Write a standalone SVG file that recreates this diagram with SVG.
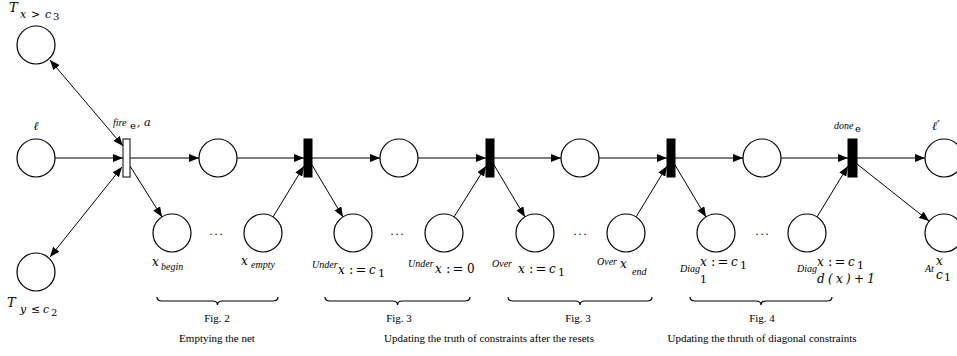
<svg xmlns="http://www.w3.org/2000/svg" width="957" height="356" viewBox="0 0 957 356">
<style>
.n circle{fill:none;stroke:#000;stroke-width:1.2}
.tb{fill:#000;stroke:#000;stroke-width:1}
.tw{fill:#fff;stroke:#000;stroke-width:1}
.e line{stroke:#000;stroke-width:1;marker-end:url(#ah)}
.e line.bi{marker-start:url(#ah)}
text{font-family:"Liberation Serif","Times New Roman",serif;fill:#000}
.i{font-style:italic}
.m{font-family:"DejaVu Serif","Liberation Serif",serif}
.op{font-style:normal;font-size:13px;letter-spacing:2px}
.br path{fill:none;stroke:#000;stroke-width:1.2}
.cap{font-size:11px;text-anchor:middle}
.dots{font-size:12px;text-anchor:middle;letter-spacing:2px}
</style>
<defs>
<marker id="ah" markerUnits="userSpaceOnUse" markerWidth="10" markerHeight="8" refX="10" refY="4" orient="auto-start-reverse">
<path d="M0,0 L10,4 L0,8 z" fill="#000"/>
</marker>
</defs>

<g id="edges" class="e">
<line class="bi" x1="123" y1="146" x2="50" y2="60"/>
<line class="bi" x1="122" y1="167" x2="50" y2="257"/>
<line x1="55" y1="158" x2="123" y2="158"/>
<line x1="130" y1="158" x2="199" y2="158"/>
<line x1="130" y1="166" x2="162" y2="217"/>
<line x1="237" y1="158" x2="304" y2="158"/>
<line x1="273" y1="217" x2="304" y2="166"/>
<line x1="312" y1="158" x2="380" y2="158"/>
<line x1="312" y1="165" x2="343" y2="217"/>
<line x1="454" y1="217" x2="486" y2="166"/>
<line x1="418" y1="158" x2="486" y2="158"/>
<line x1="494" y1="158" x2="561" y2="158"/>
<line x1="494" y1="165" x2="525" y2="217"/>
<line x1="636" y1="217" x2="667" y2="166"/>
<line x1="599" y1="158" x2="667" y2="158"/>
<line x1="675" y1="158" x2="743" y2="158"/>
<line x1="675" y1="165" x2="706" y2="217"/>
<line x1="817" y1="217" x2="848" y2="166"/>
<line x1="781" y1="158" x2="848" y2="158"/>
<line x1="857" y1="158" x2="925" y2="158"/>
<line x1="857" y1="164" x2="929" y2="221"/>
</g>

<g id="p_tx" class="n">
<circle cx="36" cy="45" r="19"/>
<text class="m i" x="9" y="12" font-size="13">T</text>
<text class="m i" x="20" y="18" font-size="11">x</text>
<text class="m" x="31" y="18" font-size="11">&gt;</text>
<text class="m i" x="45" y="18" font-size="11">c</text>
<text class="m" x="53" y="20" font-size="10">3</text>
</g>
<g id="p_l" class="n">
<circle cx="36" cy="158" r="19"/>
<text class="m i" x="36" y="130" font-size="12" text-anchor="middle">ℓ</text>
</g>
<g id="p_ty" class="n">
<circle cx="36" cy="272" r="19"/>
<text class="m i" x="7" y="307" font-size="13">T</text>
<text class="m i" x="20" y="313" font-size="11">y</text>
<text class="m" x="31" y="313" font-size="11">≤</text>
<text class="m i" x="43" y="313" font-size="11">c</text>
<text class="m" x="51" y="316" font-size="10">2</text>
</g>
<g id="t_fire">
<rect class="tw" x="123" y="139" width="7" height="38"/>
<text class="i" x="113" y="126" font-size="10">fire</text>
<text class="m" x="130" y="129" font-size="10">e</text>
<text class="m i" x="137" y="126" font-size="11">, a</text>
</g>
<g id="p1" class="n"><circle cx="218" cy="158" r="19"/></g>
<g id="p_xbegin" class="n">
<circle cx="172" cy="233" r="19"/>
<text class="m i" x="152" y="266" font-size="12">x</text>
<text class="i" x="161" y="270" font-size="10">begin</text>
</g>
<g id="p_xempty" class="n">
<circle cx="263" cy="233" r="19"/>
<text class="m i" x="241" y="265" font-size="12">x</text>
<text class="i" x="251" y="268" font-size="10">empty</text>
</g>
<g id="t1"><rect class="tb" x="304" y="139" width="8" height="38"/></g>
<g id="p2" class="n"><circle cx="399" cy="158" r="19"/></g>
<g id="p_under1" class="n">
<circle cx="353" cy="233" r="19"/>
<text class="i" x="312" y="268" font-size="10">Under</text>
<text class="m i" y="274" font-size="12"><tspan x="338">x</tspan><tspan class="op" x="349">:=</tspan><tspan x="369">c</tspan></text>
<text class="m" x="378" y="277" font-size="11">1</text>
</g>
<g id="p_under0" class="n">
<circle cx="444" cy="233" r="19"/>
<text class="i" x="408" y="267" font-size="10">Under</text>
<text class="m i" y="273" font-size="12"><tspan x="435">x</tspan><tspan class="op" x="446">:=</tspan><tspan x="467" font-style="normal">0</tspan></text>
</g>
<g id="t2"><rect class="tb" x="486" y="139" width="8" height="38"/></g>
<g id="p3" class="n"><circle cx="580" cy="158" r="19"/></g>
<g id="p_over1" class="n">
<circle cx="535" cy="233" r="19"/>
<text class="i" x="492" y="267" font-size="10">Over</text>
<text class="m i" y="273" font-size="12"><tspan x="518">x</tspan><tspan class="op" x="529">:=</tspan><tspan x="549">c</tspan></text>
<text class="m" x="558" y="276" font-size="11">1</text>
</g>
<g id="p_overend" class="n">
<circle cx="626" cy="233" r="19"/>
<text class="i" x="597" y="265" font-size="10">Over</text>
<text class="m i" x="620" y="268" font-size="12">x</text>
<text class="i" x="632" y="275" font-size="10">end</text>
</g>
<g id="t3"><rect class="tb" x="667" y="139" width="8" height="38"/></g>
<g id="p4" class="n"><circle cx="762" cy="158" r="19"/></g>
<g id="p_diag1" class="n">
<circle cx="716" cy="233" r="19"/>
<text class="i" x="680" y="272" font-size="10">Diag</text>
<text class="m i" y="266" font-size="12"><tspan x="700">x</tspan><tspan class="op" x="711">:=</tspan><tspan x="731">c</tspan></text>
<text class="m" x="740" y="269" font-size="11">1</text>
<text class="m" x="700" y="283" font-size="11">1</text>
</g>
<g id="p_diagd" class="n">
<circle cx="807" cy="233" r="19"/>
<text class="i" x="797" y="272" font-size="10">Diag</text>
<text class="m i" y="266" font-size="12"><tspan x="817">x</tspan><tspan class="op" x="828">:=</tspan><tspan x="848">c</tspan></text>
<text class="m" x="857" y="269" font-size="11">1</text>
<text class="m i" x="817" y="283" font-size="12" textLength="58" lengthAdjust="spacing">d(x)+1</text>
</g>
<g id="t_done">
<rect class="tb" x="848" y="139" width="9" height="38"/>
<text class="i" x="834" y="129" font-size="10">done</text>
<text class="m" x="855" y="132" font-size="10">e</text>
</g>
<g id="p_lp" class="n">
<circle cx="944" cy="158" r="19"/>
<text class="m i" x="932" y="130" font-size="12">ℓ′</text>
</g>
<g id="p_at" class="n">
<circle cx="944" cy="233" r="19"/>
<text class="i" x="925" y="272" font-size="10">At</text>
<text class="m i" x="936" y="265" font-size="12">x</text>
<text class="m i" x="936" y="279" font-size="12">c</text>
<text class="m" x="944" y="281" font-size="11">1</text>
</g>

<g id="dots">
<text class="dots" x="217" y="235">...</text>
<text class="dots" x="398" y="235">...</text>
<text class="dots" x="581" y="235">...</text>
<text class="dots" x="763" y="235">...</text>
</g>

<g id="braces" class="br">
<path d="M157,297 Q157,301 162,301 H212.5 Q217.5,301 217.5,305 Q217.5,301 222.5,301 H273 Q278,301 278,297"/>
<path d="M325,297 Q325,301 330,301 H392.5 Q397.5,301 397.5,305 Q397.5,301 402.5,301 H465 Q470,301 470,297"/>
<path d="M508,297 Q508,301 513,301 H575 Q580,301 580,305 Q580,301 585,301 H647 Q652,301 652,297"/>
<path d="M690,297 Q690,301 695,301 H756 Q761,301 761,305 Q761,301 766,301 H827 Q832,301 832,297"/>
</g>

<g id="captions">
<text class="cap" x="217" y="322">Fig. 2</text>
<text class="cap" x="399" y="322">Fig. 3</text>
<text class="cap" x="578" y="322">Fig. 3</text>
<text class="cap" x="762" y="322">Fig. 4</text>
<text class="cap" x="217" y="342">Emptying the net</text>
<text class="cap" x="489" y="342">Updating the truth of constraints after the resets</text>
<text class="cap" x="762" y="342">Updating the thruth of diagonal constraints</text>
</g>
</svg>
